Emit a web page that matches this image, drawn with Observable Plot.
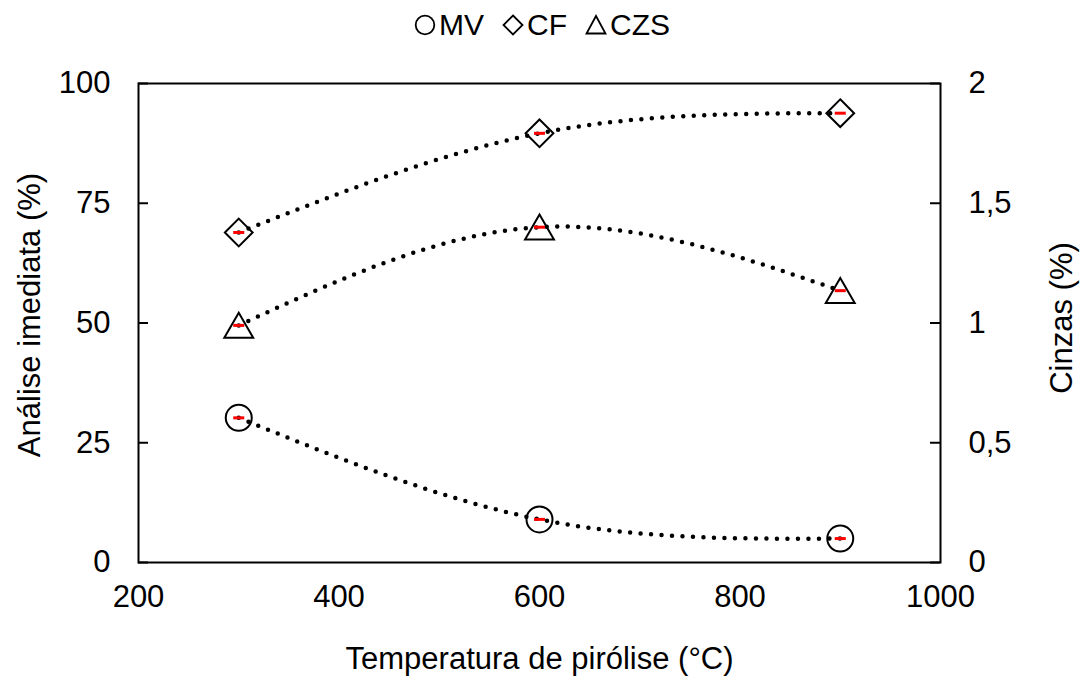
<!DOCTYPE html>
<html><head><meta charset="utf-8">
<script src="https://cdn.jsdelivr.net/npm/d3@7"></script>
<script src="https://cdn.jsdelivr.net/npm/@observablehq/plot@0.6"></script>
<style>
body{margin:0;background:#fff;font-family:"Liberation Sans",Arial,sans-serif;}
#legend{height:60px;box-sizing:border-box;padding-bottom:10px;padding-left:4px;display:flex;justify-content:center;align-items:center;font-size:30px;gap:18px;color:#000;}
#legend .item{display:flex;align-items:center;white-space:nowrap;}
#legend svg{margin-right:3px;}
</style></head><body>
<div id="legend"></div>
<div id="chart"></div>
<script>
const temperatures = [300, 600, 900];
const mv = [30.2, 9.0, 5.0];
const cf = [68.9, 89.6, 93.8];
const czs = [0.99, 1.40, 1.135];
const xErr = [5.5, 5.5, 5.5];
const xTicks = [200, 400, 600, 800, 1000];
const leftTicks = [0, 25, 50, 75, 100];
const rightTicks = [0, 0.5, 1, 1.5, 2];
const seriesNames = ["MV", "CF", "CZS"];
const seriesSymbols = ["circle", "diamond2", "triangle2"];
const ratio = 50; // left-axis units per right-axis unit

const rows = [];
temperatures.forEach((t, i) => {
  rows.push({series: "MV", x: t, y: mv[i], err: xErr[i]});
  rows.push({series: "CF", x: t, y: cf[i], err: xErr[i]});
  rows.push({series: "CZS", x: t, y: czs[i] * ratio, err: xErr[i]});
});

// legend (HTML above the plot) with small inline symbols
const legendShapes = {
  circle: '<circle cx="11" cy="11" r="9.3" fill="none" stroke="black" stroke-width="1.8"/>',
  diamond2: '<path d="M11,1.5L20.5,11L11,20.5L1.5,11Z" fill="none" stroke="black" stroke-width="1.8"/>',
  triangle2: '<path d="M11,2L20.5,19.5L1.5,19.5Z" fill="none" stroke="black" stroke-width="1.8"/>'
};
const legend = document.getElementById("legend");
seriesNames.forEach((n, i) => {
  const s = document.createElement("span");
  s.className = "item";
  s.innerHTML = `<svg width="22" height="22" viewBox="0 0 22 22">${legendShapes[seriesSymbols[i]]}</svg><span>${n}</span>`;
  legend.appendChild(s);
});

const W = 1080, H = 618, mL = 138, mR = 140, mT = 23, mB = 116;
const frameW = W - mL - mR;
const fs = 31;

const chart = Plot.plot({
  width: W, height: H,
  marginLeft: mL, marginRight: mR, marginTop: mT, marginBottom: mB,
  style: {fontFamily: "Liberation Sans, Arial, sans-serif", fontSize: fs + "px", color: "black", background: "white"},
  x: {domain: [200, 1000]},
  y: {domain: [0, 100]},
  marks: [
    Plot.axisX(xTicks, {tickSize: 0, tickPadding: 22, label: null, tickFormat: d => String(d)}),
    Plot.axisY(leftTicks, {anchor: "left", tickSize: 0, tickPadding: 28, label: null, tickFormat: d => String(d)}),
    Plot.axisY(rightTicks.map(d => d * ratio), {anchor: "right", tickSize: 0, tickPadding: 28, label: null,
      tickFormat: d => String(d / ratio).replace(".", ",")}),
    Plot.tickY(leftTicks, {y: d => d, insetRight: frameW - 10, stroke: "black", strokeWidth: 2}),
    Plot.tickY(rightTicks.map(d => d * ratio), {y: d => d, insetLeft: frameW - 10, stroke: "black", strokeWidth: 2}),
    Plot.frame({stroke: "black", strokeWidth: 2}),
    Plot.line(rows, {x: "x", y: "y", z: "series", curve: "natural", stroke: "black", strokeWidth: 4.5,
      strokeDasharray: "0 10.5", strokeLinecap: "round"}),
    Plot.link(rows, {x1: d => d.x - d.err, x2: d => d.x + d.err, y1: "y", y2: "y", stroke: "red", strokeWidth: 3}),
    Plot.dot(rows.filter(d => d.series === "MV"), {x: "x", y: "y", symbol: "circle", r: 13, fill: "none", stroke: "black", strokeWidth: 2}),
    Plot.dot(rows.filter(d => d.series === "CF"), {x: "x", y: "y", symbol: "diamond2", r: 12.5, fill: "none", stroke: "black", strokeWidth: 2}),
    Plot.dot(rows.filter(d => d.series === "CZS"), {x: "x", y: "y", symbol: "triangle2", r: 13.8, dy: 4, fill: "none", stroke: "black", strokeWidth: 2}),
    Plot.text(["Análise imediata (%)"], {text: d => d, frameAnchor: "left", textAnchor: "middle", dx: -108, dy: -8, rotate: -90, fill: "black"}),
    Plot.text(["Cinzas (%)"], {text: d => d, frameAnchor: "right", textAnchor: "middle", dx: 122, dy: -5, rotate: -90, fill: "black"}),
    Plot.text(["Temperatura de pirólise (°C)"], {text: d => d, frameAnchor: "bottom", textAnchor: "middle", dy: 106, fill: "black"})
  ]
});
document.getElementById("chart").appendChild(chart);
</script>
</body></html>
